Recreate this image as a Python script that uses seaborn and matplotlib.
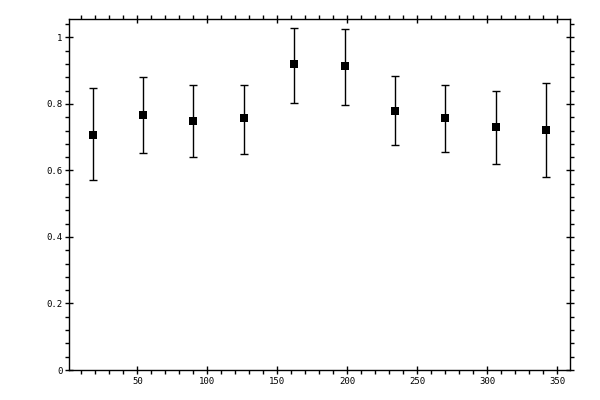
import matplotlib
matplotlib.use("Agg")
import matplotlib.pyplot as plt
import numpy as np
import seaborn as sns
from matplotlib.ticker import MultipleLocator, FuncFormatter

# values
x_pos = [18, 54, 90, 126, 162, 198, 234, 270, 306, 342]
y_val = [0.708, 0.766, 0.750, 0.757, 0.919, 0.913, 0.780, 0.757, 0.730, 0.721]
y_low = [0.570, 0.654, 0.642, 0.651, 0.803, 0.796, 0.678, 0.657, 0.621, 0.579]
y_high = [0.847, 0.880, 0.856, 0.858, 1.029, 1.027, 0.885, 0.856, 0.838, 0.862]

sns.set_theme(style="ticks")
plt.rcParams["font.family"] = ["DejaVu Sans Mono"]

fig = plt.figure(figsize=(6, 4), dpi=100)
ax = fig.add_axes([0.1158, 0.075, 0.8342, 0.877])

yv = np.array(y_val)
err = np.vstack([yv - np.array(y_low), np.array(y_high) - yv])
ax.errorbar(x_pos, y_val, yerr=err, fmt="none", ecolor="black",
            elinewidth=1.0, capsize=3.0, capthick=1.0, zorder=2)
sns.scatterplot(x=x_pos, y=y_val, marker="s", s=28, color="black",
                edgecolor="black", linewidth=0, ax=ax, zorder=3)

ax.set_xlim(1.5, 359)
ax.set_ylim(0, 1.055)
ax.xaxis.set_major_locator(MultipleLocator(50))
ax.xaxis.set_minor_locator(MultipleLocator(10))
ax.yaxis.set_major_locator(MultipleLocator(0.2))
ax.yaxis.set_minor_locator(MultipleLocator(0.04))
ax.yaxis.set_major_formatter(FuncFormatter(lambda v, p: f"{v:g}"))

for side in ["top", "right", "left", "bottom"]:
    ax.spines[side].set_visible(True)
    ax.spines[side].set_color("black")
    ax.spines[side].set_linewidth(1.0)

ax.tick_params(which="both", top=True, right=True, colors="black",
               labelsize=6.5, width=1.0)
ax.tick_params(which="major", direction="inout", length=6, pad=2)
ax.tick_params(which="minor", direction="out", length=3)
ax.grid(False)

fig.savefig("out.png", dpi=100)
